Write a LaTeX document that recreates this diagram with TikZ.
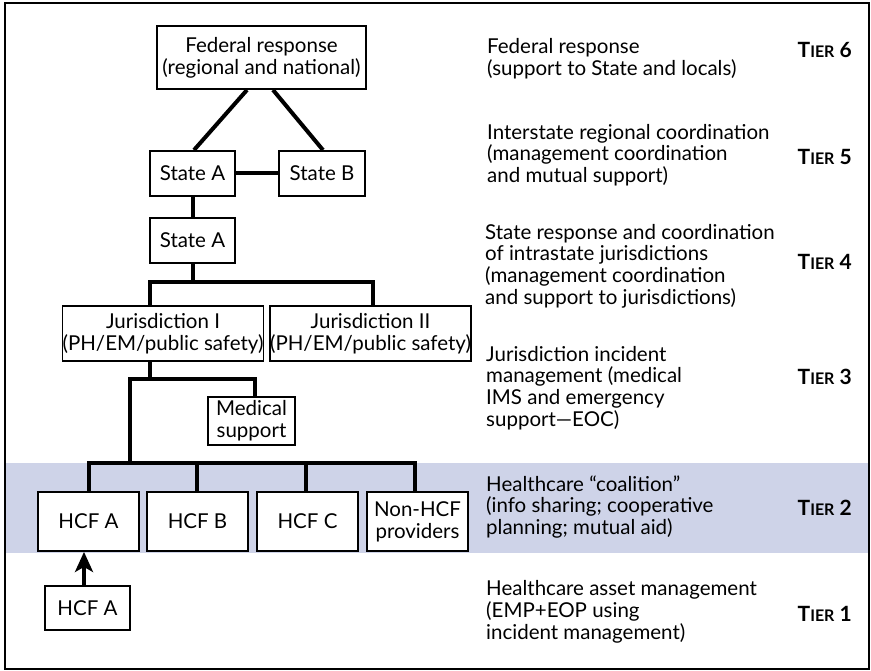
\documentclass[tikz,border=0pt]{standalone}
\usepackage{fontspec}
\setmainfont{Lato}
\usetikzlibrary{arrows.meta}
\definecolor{bandblue}{RGB}{206,211,232}
\tikzset{
  unit/.style={draw=black, line width=1.9pt, fill=white, inner sep=0pt,
    align=center, font=\fontsize{20.5}{21.7}\selectfont},
  link/.style={line width=4pt},
  tiertext/.style={anchor=west, align=left, inner sep=0pt,
    font=\fontsize{20.5}{21.7}\selectfont},
  tierlabel/.style={anchor=east, inner sep=0pt, font=\bfseries\fontsize{21}{22}\selectfont}
}
\newcommand{\tierlbl}[1]{T{\fontsize{16}{18}\selectfont IER} #1}
\begin{document}
\begin{tikzpicture}[x=1pt,y=-1pt]
  \useasboundingbox (0,0) rectangle (871,671);
  % shaded coalition band
  \fill[bandblue] (5,463) rectangle (869,553);
  % outer frame
  \draw[line width=2pt] (5,3) rectangle (869,669);

  % organisational boxes
  \node[unit, minimum width=209pt, minimum height=63pt] (fed) at (261.5,57.5)
    {Federal response\\(regional and national)};
  \node[unit, minimum width=85pt, minimum height=45pt] (sa) at (192.5,173.5) {State A};
  \node[unit, minimum width=86pt, minimum height=45pt] (sb) at (322,173.5) {State B};
  \node[unit, minimum width=85pt, minimum height=45pt] (sa2) at (192.5,240.5) {State A};
  \node[unit, minimum width=190pt, minimum height=55pt] (jur1) at (163,333.5)
    {Jurisdiction I\\(PH/EM/public safety)};
  \node[unit, minimum width=191pt, minimum height=55pt] (jur2) at (370.5,333.5)
    {Jurisdiction II\\(PH/EM/public safety)};
  \node[unit, minimum width=87pt, minimum height=48pt] (med) at (251.5,421)
    {Medical\\support};
  \node[unit, minimum width=101pt, minimum height=59pt] (hcfa) at (88.5,521.5) {HCF A};
  \node[unit, minimum width=101pt, minimum height=59pt] (hcfb) at (197.5,521.5) {HCF B};
  \node[unit, minimum width=101pt, minimum height=59pt] (hcfc) at (307.5,521.5) {HCF C};
  \node[unit, minimum width=101pt, minimum height=59pt] (nonhcf) at (417.5,521.5)
    {Non-HCF\\providers};
  \node[unit, minimum width=85pt, minimum height=44pt] (hcfa2) at (87.5,608) {HCF A};

  % bus rails
  \coordinate (busstate) at (260,282);
  \coordinate (busjur) at (190,379);
  \coordinate (bushcf) at (250,463);
  \coordinate (jurdrop) at (130,379);

  % connectors
  \draw[link] ([xshift=-14.5pt]fed.south) -- ([xshift=1.5pt]sa.north);
  \draw[link] ([xshift=11.5pt]fed.south) -- ([xshift=1pt]sb.north);
  \draw[link] (sa) -- (sb);
  \draw[link] (sa.south) -- (sa2.north);
  \draw[link] (sa2.south) -- (sa2.south |- busstate);
  \draw[link] ([xshift=-13pt]jur1.north) |- (busstate) -| ([xshift=2.5pt]jur2.north);
  \draw[link] ([xshift=-13pt]jur1.south) -- ([xshift=-13pt]jur1.south |- busjur);
  \draw[link] (jurdrop |- bushcf) -- (jurdrop) -| ([xshift=3.5pt]med.north);
  \draw[link] ([xshift=0.5pt]hcfa.north) |- (bushcf) -| ([xshift=-2.5pt]nonhcf.north);
  \draw[link] ([xshift=-0.5pt]hcfb.north) -- ([xshift=-0.5pt]hcfb.north |- bushcf);
  \draw[link] ([xshift=-1.5pt]hcfc.north) -- ([xshift=-1.5pt]hcfc.north |- bushcf);
  \draw[line width=3.6pt, -{Stealth[length=20pt,width=18pt,inset=5pt]}]
    ([xshift=-3.5pt]hcfa2.north) -- ([xshift=-4.5pt]hcfa.south);

  % tier descriptions
  \node[tiertext] (t6) at (487,59) {Federal response\\(support to State and locals)};
  \node[tiertext] (t5) at (487,155) {Interstate regional coordination\\(management coordination\\and mutual support)};
  \node[tiertext] (t4) at (485,266) {State response and coordination\\of intrastate jurisdictions\\(management coordination\\and support to jurisdictions)};
  \node[tiertext] (t3) at (486,388) {Jurisdiction incident\\management (medical\\IMS and emergency\\support---EOC)};
  \node[tiertext] (t2) at (486,507) {Healthcare “coalition”\\(info sharing; cooperative\\planning; mutual aid)};
  \node[tiertext] (t1) at (486,612) {Healthcare asset management\\(EMP+EOP using\\incident management)};

  % tier labels
  \node[tierlabel] (l6) at (852,50) {\tierlbl{6}};
  \node[tierlabel] (l5) at (852,157) {\tierlbl{5}};
  \node[tierlabel] (l4) at (852,262) {\tierlbl{4}};
  \node[tierlabel] (l3) at (852,377) {\tierlbl{3}};
  \node[tierlabel] (l2) at (852,508) {\tierlbl{2}};
  \node[tierlabel] (l1) at (852,614) {\tierlbl{1}};
\end{tikzpicture}
\end{document}
